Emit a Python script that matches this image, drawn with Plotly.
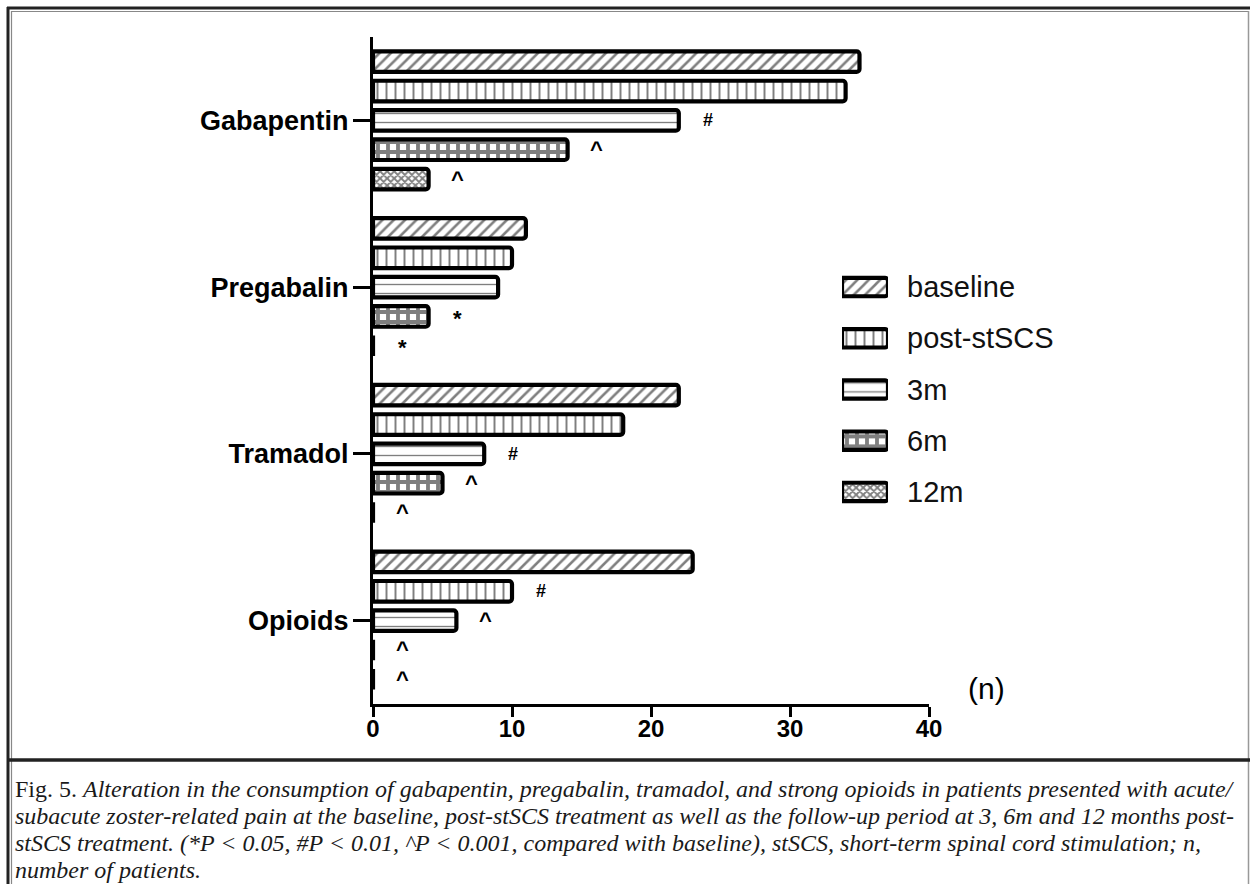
import plotly.graph_objects as go

# ---------------- data ----------------
categories = ["Gabapentin", "Pregabalin", "Tramadol", "Opioids"]
series_names = ["baseline", "post-stSCS", "3m", "6m", "12m"]

baseline = [35, 11, 22, 23]
post_stscs = [34, 10, 18, 10]
m3 = [22, 9, 8, 6]
m6 = [14, 4, 5, 0]
m12 = [4, 0, 0, 0]

sig_baseline = ["", "", "", ""]
sig_post = ["", "", "", "#"]
sig_m3 = ["#", "", "#", "^"]
sig_m6 = ["^", "*", "^", "^"]
sig_m12 = ["^", "*", "^", "^"]

x_ticks = [0, 10, 20, 30, 40]
x_label = "(n)"

caption_lines = [
    "Fig. 5. <i>Alteration in the consumption of gabapentin, pregabalin, tramadol, and strong opioids in patients presented with acute/</i>",
    "<i>subacute zoster-related pain at the baseline, post-stSCS treatment as well as the follow-up period at 3, 6m and 12 months post-</i>",
    "<i>stSCS treatment. (*P &lt; 0.05, #P &lt; 0.01, ^P &lt; 0.001, compared with baseline), stSCS, short-term spinal cord stimulation; n,</i>",
    "<i>number of patients.</i>",
]

values = [baseline, post_stscs, m3, m6, m12]
sigs = [sig_baseline, sig_post, sig_m3, sig_m6, sig_m12]

# ---------------- styles ----------------
patterns = [
    dict(shape="/", size=8, solidity=0.32, fg="black", bg="white"),
    dict(shape="|", size=9, solidity=0.22, fg="black", bg="white"),
    dict(shape="-", size=9, solidity=0.15, fg="black", bg="white"),
    dict(shape="+", size=10, solidity=0.62, fg="black", bg="white"),
    dict(shape="x", size=5, solidity=0.6, fg="black", bg="white"),
]

W, H = 1250, 884
L, R, T, B = 373, 929, 37, 704  # plot area in pixels


def px2x(px):
    return (px - L) / (R - L)


def py2y(py):
    return (B - py) / (B - T)


BARGAP = 0.12
BARGROUPGAP = 0.3
n_series = len(series_names)
slot = (1 - BARGAP) / n_series


def bar_marker(p):
    return dict(
        color=p["bg"],
        line=dict(color="black", width=4.2),
        cornerradius=3,
        pattern=dict(shape=p["shape"], size=p["size"], solidity=p["solidity"],
                     fgcolor=p["fg"], bgcolor=p["bg"], fillmode="overlay"),
    )


fig = go.Figure()

for i, (name, vals) in enumerate(zip(series_names, values)):
    fig.add_trace(go.Bar(
        y=categories, x=vals, orientation="h", name=name,
        marker=bar_marker(patterns[i]),
        showlegend=False, hoverinfo="skip",
    ))

# significance annotations
annotations = []
for i, (vals, sg) in enumerate(zip(values, sigs)):
    off = -(1 - BARGAP) / 2 + (i + 0.5) * slot
    for j, (v, s) in enumerate(zip(vals, sg)):
        if not s:
            continue
        annotations.append(dict(
            x=v + 2.1, y=j + off, xref="x", yref="y", text=s, showarrow=False,
            font=dict(family="Liberation Sans, Arial", size=22 if s != "#" else 18,
                      color="black", weight="bold"),
            xanchor="center", yanchor="middle",
            yshift=-2 if s == "*" else 0,
        ))

# custom legend drawn on an auxiliary axis
for i, name in enumerate(series_names):
    fig.add_trace(go.Bar(
        y=[name], x=[1], orientation="h", xaxis="x2", yaxis="y2",
        width=0.36, offset=-0.18,
        marker=bar_marker(patterns[i]),
        showlegend=False, hoverinfo="skip",
    ))

# (n) label
annotations.append(dict(
    x=px2x(986), y=py2y(688), xref="paper", yref="paper", text=x_label,
    showarrow=False, font=dict(family="Liberation Sans, Arial", size=30, color="black"),
    xanchor="center", yanchor="middle",
))

# caption
cap_y = [789, 816, 843, 870]
for line, cy in zip(caption_lines, cap_y):
    annotations.append(dict(
        x=px2x(13), y=py2y(cy), xref="paper", yref="paper", text=line,
        showarrow=False, xanchor="left", yanchor="middle",
        font=dict(family="Liberation Serif, Times New Roman", size=24, color="#1a1a1a"),
    ))

# frame shapes
shapes = [
    dict(type="line", xref="paper", yref="paper", x0=px2x(7), x1=px2x(1250), y0=py2y(8), y1=py2y(8),
         line=dict(color="#222", width=3)),
    dict(type="line", xref="paper", yref="paper", x0=px2x(8), x1=px2x(8), y0=py2y(7), y1=py2y(884),
         line=dict(color="#222", width=3)),
    dict(type="line", xref="paper", yref="paper", x0=px2x(11), x1=px2x(1249), y0=py2y(11.5), y1=py2y(11.5),
         line=dict(color="#888", width=1.2)),
    dict(type="line", xref="paper", yref="paper", x0=px2x(11.5), x1=px2x(11.5), y0=py2y(11), y1=py2y(884),
         line=dict(color="#888", width=1.2)),
    dict(type="line", xref="paper", yref="paper", x0=px2x(1248.5), x1=px2x(1248.5), y0=py2y(11), y1=py2y(884),
         line=dict(color="#999", width=1.5)),
    dict(type="line", xref="paper", yref="paper", x0=px2x(8), x1=px2x(1250), y0=py2y(760), y1=py2y(760),
         line=dict(color="#222", width=3.5)),
]

fig.update_layout(
    width=W, height=H,
    margin=dict(l=L, r=W - R, t=T, b=H - B, pad=0),
    paper_bgcolor="white", plot_bgcolor="white",
    barmode="group", bargap=BARGAP, bargroupgap=BARGROUPGAP,
    annotations=annotations, shapes=shapes,
    xaxis=dict(
        range=[0, 40], tickvals=x_ticks, ticktext=[str(t) for t in x_ticks],
        showline=True, linecolor="black", linewidth=3,
        ticks="outside", ticklen=10, tickwidth=3, tickcolor="black",
        showgrid=False, zeroline=False, ticklabelstandoff=-9,
        tickfont=dict(family="Liberation Sans, Arial", size=24, color="black", weight="bold"),
        fixedrange=True,
    ),
    yaxis=dict(
        autorange="reversed", showline=True, linecolor="black", linewidth=3,
        ticks="outside", ticklen=17, tickwidth=3, tickcolor="black",
        showgrid=False, zeroline=False, ticklabelstandoff=-1,
        tickfont=dict(family="Liberation Sans, Arial", size=27, color="black", weight="bold"),
        fixedrange=True,
    ),
    xaxis2=dict(
        domain=[px2x(842), px2x(888)], range=[0, 1], anchor="y2",
        visible=False, fixedrange=True,
    ),
    yaxis2=dict(
        domain=[py2y(517.6), py2y(261.4)], anchor="x2", side="right",
        autorange="reversed", showline=False, showgrid=False, zeroline=False,
        ticks="", ticklabelstandoff=18,
        tickfont=dict(family="Liberation Sans, Arial", size=29, color="#111"),
        fixedrange=True,
    ),
)

fig.write_html("out.html", config={"displayModeBar": False},
               post_script="document.body.style.margin='0';")
